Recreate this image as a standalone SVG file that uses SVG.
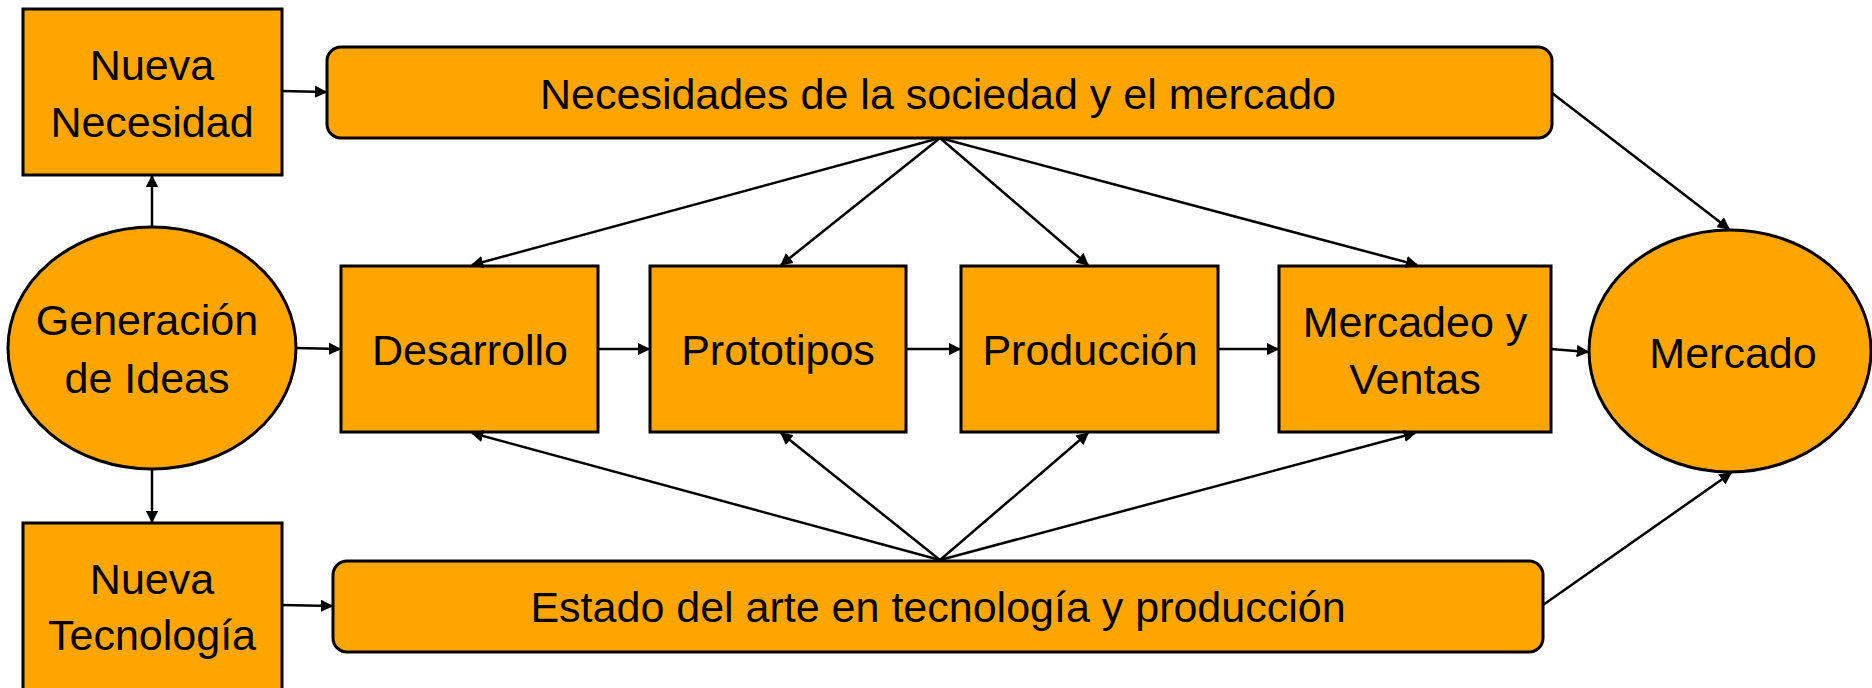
<svg xmlns="http://www.w3.org/2000/svg" width="1872" height="688" viewBox="0 0 1872 688">
<style>
.n{fill:#FFA500;stroke:#000;stroke-width:3}
.t{font-family:"Liberation Sans",Arial,sans-serif;font-size:43px;fill:#000;text-anchor:middle}
.c line{stroke:#000;stroke-width:2.5;marker-end:url(#ah)}
</style>
<defs>
<marker id="ah" viewBox="0 0 10 10" refX="9" refY="5" markerWidth="5" markerHeight="5" orient="auto" markerUnits="strokeWidth">
<path d="M0,0 L10,5 L0,10 z" fill="#000"/>
</marker>
</defs>
<rect width="1872" height="688" fill="#fff"/>
<g id="nueva-necesidad"><rect class="n" x="23" y="9" width="259" height="166"/><text class="t" x="152" y="80">Nueva</text><text class="t" x="152" y="137">Necesidad</text></g>
<g id="necesidades"><rect class="n" x="327" y="47" width="1225" height="91" rx="14"/><text class="t" x="938" y="109">Necesidades de la sociedad y el mercado</text></g>
<g id="generacion"><ellipse class="n" cx="152" cy="348" rx="144" ry="121"/><text class="t" x="147" y="335">Generación</text><text class="t" x="147" y="393">de Ideas</text></g>
<g id="desarrollo"><rect class="n" x="341" y="266" width="257" height="166"/><text class="t" x="470" y="365">Desarrollo</text></g>
<g id="prototipos"><rect class="n" x="650" y="266" width="256" height="166"/><text class="t" x="778" y="365">Prototipos</text></g>
<g id="produccion"><rect class="n" x="961" y="266" width="257" height="166"/><text class="t" x="1090" y="365">Producción</text></g>
<g id="mercadeo"><rect class="n" x="1279" y="266" width="272" height="166"/><text class="t" x="1415" y="337">Mercadeo y</text><text class="t" x="1415" y="394">Ventas</text></g>
<g id="mercado"><ellipse class="n" cx="1730" cy="351" rx="141" ry="121"/><text class="t" x="1733" y="368">Mercado</text></g>
<g id="nueva-tecnologia"><rect class="n" x="23" y="523" width="259" height="170"/><text class="t" x="152" y="594">Nueva</text><text class="t" x="152" y="650">Tecnología</text></g>
<g id="estado"><rect class="n" x="333" y="561" width="1210" height="91" rx="14"/><text class="t" x="938" y="622">Estado del arte en tecnología y producción</text></g>
<g class="c" id="connectors">
<line x1="282" y1="91" x2="326" y2="92"/>
<line x1="152" y1="227" x2="152" y2="176"/>
<line x1="296" y1="348" x2="340" y2="349"/>
<line x1="152" y1="469" x2="152" y2="522"/>
<line x1="282" y1="605" x2="332" y2="606"/>
<line x1="598" y1="349" x2="649" y2="349"/>
<line x1="906" y1="349" x2="960" y2="349"/>
<line x1="1218" y1="349" x2="1278" y2="349"/>
<line x1="1551" y1="349" x2="1588" y2="352"/>
<line x1="940" y1="138" x2="472" y2="265"/>
<line x1="940" y1="138" x2="781" y2="265"/>
<line x1="940" y1="138" x2="1088" y2="265"/>
<line x1="940" y1="138" x2="1417" y2="265"/>
<line x1="940" y1="560" x2="472" y2="433"/>
<line x1="940" y1="560" x2="781" y2="433"/>
<line x1="940" y1="560" x2="1088" y2="433"/>
<line x1="940" y1="560" x2="1415" y2="433"/>
<line x1="1552" y1="93" x2="1729" y2="229"/>
<line x1="1543" y1="605" x2="1731" y2="473"/>
</g>
</svg>
